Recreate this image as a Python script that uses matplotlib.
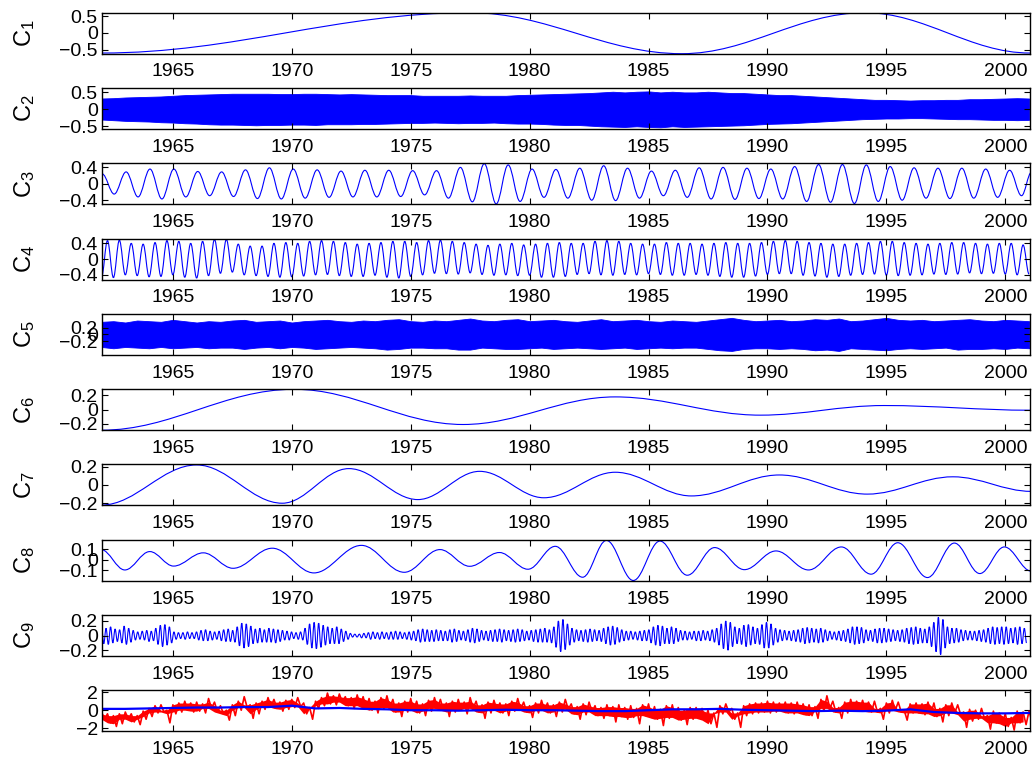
import numpy as np
import matplotlib
matplotlib.use("Agg")
import matplotlib.pyplot as plt
from matplotlib.path import Path
from matplotlib.patches import PathPatch
from matplotlib.ticker import FuncFormatter

plt.rcParams["font.family"] = ["Liberation Sans", "DejaVu Sans"]
plt.rcParams["mathtext.default"] = "regular"

# ---- data (years, values) ----
X_RANGE = (1962.02, 2001.04)
YEAR_TICKS = [1965, 1970, 1975, 1980, 1985, 1990, 1995, 2000]

# C1: turning points
C1_t = [1962.0, 1977.5, 1986.4, 1994.1, 2001.04]
C1_v = [-0.60, 0.60, -0.62, 0.60, -0.60]

# C2: band edges every half year from 1962.0
C2_upper = [.32, .33, .35, .36, .37, .38, .40, .42, .43, .44, .45, .46, .46, .46, .46, .45,
            .45, .46, .46, .45, .44, .45, .44, .43, .42, .42, .42, .40, .40, .40, .40, .41,
            .40, .40, .40, .42, .43, .44, .45, .46, .47, .48, .50, .52, .50, .52, .53, .50,
            .52, .50, .50, .52, .50, .48, .48, .46, .44, .42, .42, .40, .38, .36, .34, .32,
            .30, .28, .28, .27, .26, .27, .27, .28, .28, .30, .30, .31, .32, .33, .32]
C2_lower = [-.30, -.32, -.34, -.35, -.36, -.38, -.39, -.41, -.42, -.44, -.45, -.45, -.46, -.47, -.46, -.46,
            -.45, -.45, -.46, -.44, -.44, -.44, -.43, -.43, -.42, -.41, -.40, -.40, -.39, -.40, -.41, -.40,
            -.40, -.39, -.41, -.42, -.42, -.43, -.45, -.46, -.46, -.48, -.50, -.51, -.52, -.50, -.52, -.53,
            -.50, -.52, -.51, -.50, -.49, -.48, -.47, -.45, -.43, -.42, -.41, -.39, -.37, -.35, -.33, -.31,
            -.29, -.28, -.27, -.27, -.26, -.26, -.27, -.28, -.29, -.29, -.30, -.31, -.31, -.32, -.31]

# C3: alternating turning points every 0.502 yr from 1962.03, then end point
C3_v = [0.24, -0.25, 0.29, -0.32, 0.36, -0.37, 0.36, -0.32, 0.30, -0.29, 0.29, -0.31, 0.34,
        -0.36, 0.39, -0.37, 0.36, -0.35, 0.34, -0.33, 0.31, -0.32, 0.33, -0.32, 0.33, -0.31,
        0.32, -0.27, 0.32, -0.35, 0.40, -0.44, 0.49, -0.49, 0.46, -0.43, 0.36, -0.33, 0.35,
        -0.35, 0.38, -0.40, 0.44, -0.41, 0.38, -0.35, 0.31, -0.29, 0.33, -0.33, 0.39, -0.37,
        0.40, -0.38, 0.38, -0.36, 0.36, -0.37, 0.42, -0.43, 0.47, -0.45, 0.47, -0.48, 0.46,
        -0.43, 0.42, -0.40, 0.39, -0.35, 0.38, -0.36, 0.38, -0.35, 0.36, -0.33, 0.33, -0.29]
C3_start, C3_step, C3_end = 1962.03, 0.502, (2001.1, 0.28)

# C4: troughs at 1962.0 + 0.5k, peaks half way between
C4_troughs = [-.46, -.47, -.40, -.42, -.45, -.44, -.40, -.46, -.48, -.42, -.36, -.33, -.40, -.42, -.44, -.46,
              -.45, -.43, -.40, -.39, -.42, -.44, -.44, -.41, -.46, -.48, -.44, -.40, -.36, -.37, -.38, -.35,
              -.39, -.41, -.40, -.42, -.41, -.46, -.46, -.44, -.39, -.37, -.40, -.41, -.39, -.40, -.37, -.39,
              -.41, -.41, -.39, -.41, -.44, -.46, -.46, -.43, -.39, -.37, -.37, -.41, -.43, -.46, -.44, -.41,
              -.39, -.38, -.41, -.42, -.41, -.40, -.38, -.39, -.38, -.35, -.37, -.36, -.38, -.40, -.38]
C4_peaks = [.47, .48, .40, .38, .42, .47, .45, .40, .45, .50, .50, .38, .33, .33, .40, .42,
            .40, .45, .47, .45, .42, .38, .40, .42, .45, .45, .42, .47, .48, .45, .42, .38,
            .35, .38, .40, .36, .38, .40, .42, .40, .40, .45, .47, .45, .40, .38, .38, .42,
            .40, .40, .38, .40, .42, .40, .40, .42, .45, .47, .45, .42, .40, .38, .38, .40,
            .42, .45, .45, .42, .40, .38, .40, .42, .42, .40, .38, .40, .40, .36]

# C5: band edges every half year from 1962.0
C5_upper = [.38, .40, .36, .42, .40, .38, .44, .40, .36, .40, .38, .42, .44, .38, .40, .42,
            .36, .40, .42, .44, .40, .38, .42, .40, .44, .46, .40, .38, .42, .40, .44, .48,
            .42, .40, .44, .46, .40, .42, .44, .40, .38, .42, .46, .40, .42, .44, .40, .38,
            .42, .40, .38, .42, .46, .50, .44, .40, .42, .44, .40, .42, .46, .44, .48, .40,
            .42, .46, .50, .44, .42, .44, .40, .42, .44, .46, .42, .40, .44, .42, .40]
C5_lower = [-.38, -.42, -.38, -.40, -.42, -.38, -.42, -.40, -.38, -.42, -.40, -.40, -.44, -.40, -.38, -.42,
            -.38, -.40, -.44, -.42, -.40, -.38, -.40, -.42, -.46, -.44, -.40, -.40, -.42, -.42, -.46, -.46,
            -.40, -.42, -.44, -.44, -.42, -.40, -.44, -.42, -.40, -.42, -.44, -.42, -.40, -.44, -.42, -.40,
            -.42, -.40, -.40, -.44, -.48, -.50, -.44, -.42, -.42, -.44, -.42, -.44, -.48, -.46, -.50, -.42,
            -.44, -.46, -.48, -.44, -.42, -.44, -.42, -.40, -.46, -.44, -.44, -.42, -.44, -.40, -.42]

# C6, C7, C8: turning points
C6_t = [1962.0, 1970.1, 1977.2, 1983.6, 1989.7, 1994.9, 2001.1]
C6_v = [-0.29, 0.284, -0.21, 0.177, -0.079, 0.056, -0.01]
C7_t = [1962.0, 1966.0, 1969.6, 1972.4, 1975.3, 1977.9, 1980.6, 1983.6, 1986.8, 1990.5,
        1994.2, 1997.8, 2001.1]
C7_v = [-0.22, 0.22, -0.20, 0.18, -0.16, 0.15, -0.14, 0.14, -0.12, 0.11, -0.10, 0.09, -0.07]
C8_t = [1961.98, 1962.98, 1964.03, 1965.03, 1966.28, 1967.53, 1969.18, 1970.93, 1972.93,
        1974.73, 1976.23, 1977.48, 1978.73, 1979.93, 1981.08, 1982.23, 1983.23, 1984.36,
        1985.48, 1986.63, 1987.78, 1989.03, 1990.36, 1991.73, 1993.11, 1994.36, 1995.48,
        1996.73, 1997.86, 1998.93, 1999.96, 2001.1]
C8_v = [0.097, -0.097, 0.078, -0.06, 0.066, -0.081, 0.11, -0.125, 0.137, -0.119, 0.097,
        -0.062, 0.069, -0.09, 0.128, -0.166, 0.184, -0.197, 0.178, -0.147, 0.116, -0.094,
        0.084, -0.097, 0.122, -0.137, 0.162, -0.169, 0.159, -0.131, 0.122, -0.109]

# C9: peaks and troughs, alternating from 1962.0
C9_peaks = [.12, .10, .12, .09, .08, .13, .10, .07, .05, .06, .07, .06, .10, .14, .15, .12,
            .05, .04, .04, .05, .04, .05, .07, .08, .06, .05, .06, .08, .09, .07, .12, .17,
            .16, .13, .09, .10, .08, .10, .09, .08, .07, .06, .05, .04, .05, .10, .16, .18,
            .17, .14, .12, .10, .12, .09, .06, .03, .02, .02, .03, .04, .05, .04, .05, .04,
            .05, .06, .05, .04, .05, .06, .08, .09, .08, .07, .08, .07, .06, .08, .09, .07,
            .06, .08, .10, .09, .07, .06, .07, .08, .09, .08, .07, .08, .09, .08, .06, .07,
            .08, .09, .10, .08, .12, .20, .22, .16, .10, .08, .07, .08, .09, .08, .07, .10,
            .12, .13, .11, .08, .06, .06, .05, .06, .07, .08, .12, .14, .13, .10, .12, .10,
            .07, .06, .05, .06, .06, .07, .06, .08, .10, .16, .20, .18, .12, .10, .14, .15,
            .12, .10, .15, .18, .16, .10, .08, .07, .06, .07, .08, .10, .11, .10, .09, .10,
            .08, .06, .05, .06, .07, .09, .12, .12, .11, .08, .07, .09, .10, .10, .09, .08,
            .07, .08, .10, .11, .12, .10, .09, .12, .18, .25, .22, .12, .10, .10, .08, .07,
            .06, .06, .07, .08, .10, .12, .11, .12, .12, .10, .11, .12, .10]
C9_troughs = [-.11, -.12, -.10, -.08, -.10, -.12, -.09, -.06, -.05, -.06, -.08, -.07, -.12, -.15, -.13, -.10,
              -.05, -.04, -.05, -.04, -.04, -.06, -.07, -.07, -.06, -.05, -.07, -.08, -.08, -.09, -.14, -.17,
              -.15, -.11, -.10, -.09, -.09, -.09, -.10, -.08, -.06, -.06, -.04, -.05, -.06, -.12, -.17, -.18,
              -.16, -.13, -.11, -.11, -.11, -.08, -.05, -.02, -.02, -.03, -.03, -.05, -.04, -.05, -.04, -.05,
              -.05, -.05, -.04, -.05, -.06, -.07, -.09, -.08, -.08, -.08, -.07, -.07, -.07, -.09, -.08, -.06,
              -.07, -.09, -.10, -.08, -.06, -.07, -.08, -.08, -.09, -.07, -.08, -.09, -.08, -.07, -.06, -.08,
              -.09, -.09, -.09, -.10, -.16, -.22, -.19, -.13, -.09, -.07, -.08, -.09, -.08, -.07, -.08, -.11,
              -.13, -.12, -.09, -.07, -.06, -.05, -.06, -.07, -.07, -.10, -.13, -.14, -.11, -.11, -.11, -.08,
              -.06, -.06, -.05, -.07, -.07, -.06, -.07, -.09, -.13, -.18, -.20, -.15, -.11, -.12, -.15, -.13,
              -.11, -.12, -.17, -.17, -.13, -.09, -.07, -.06, -.07, -.08, -.09, -.11, -.10, -.09, -.10, -.09,
              -.07, -.05, -.06, -.07, -.08, -.10, -.12, -.11, -.10, -.07, -.08, -.10, -.10, -.09, -.08, -.07,
              -.08, -.09, -.11, -.12, -.11, -.10, -.10, -.15, -.22, -.26, -.17, -.11, -.10, -.09, -.07, -.06,
              -.06, -.07, -.08, -.09, -.11, -.12, -.11, -.12, -.11, -.10, -.12, -.11, -.10]
C9_start, C9_step = 1962.0, 0.0951

# bottom panel: red series high/low every quarter year from 1962.0 (two years per row)
RED_hi = [-0.2, -0.4, -0.6, -0.4, -0.2, -0.4, -0.6, -0.1,
          0.2, 0.5, 0.6, 0.0, 0.6, 0.8, 1.0, 0.8,
          0.9, 0.7, 1.3, 0.9, 0.5, 0.0, 0.6, 1.0,
          1.5, 0.6, 0.8, 1.0, 1.4, 1.2, 0.9, 1.1,
          1.2, 1.4, 0.8, 0.3, 1.0, 1.4, 1.9, 1.6,
          1.8, 1.5, 1.4, 1.7, 1.5, 1.3, 1.0, 1.4,
          1.6, 1.2, 0.8, 1.0, 1.3, 1.0, 0.7, 1.1,
          1.4, 1.2, 0.8, 1.0, 1.2, 0.9, 1.4, 1.0,
          0.6, 0.9, 1.1, 0.8, 0.7, 1.0, 1.3, 0.9,
          0.5, 0.8, 1.1, 0.8, 0.6, 0.9, 1.2, 0.7,
          0.4, 0.7, 0.9, 0.5, 0.3, 0.6, 0.4, 0.6,
          0.3, 0.5, 0.2, 0.6, 0.7, 0.4, 0.1, 0.5,
          0.6, 0.3, 0.0, 0.3, 0.3, 0.2, 0.0, -0.3,
          0.5, 0.7, 0.2, -0.3, 0.5, 0.7, 0.8, 0.8,
          1.0, 0.9, 0.8, 0.9, 0.8, 0.9, 0.7, 0.6,
          0.4, 1.2, 1.6, 1.0, 0.3, 0.9, 1.2, 1.0,
          1.1, 0.9, 1.0, 0.2, 0.8, 1.1, 0.9, 0.0,
          0.7, 0.8, 0.7, 0.9, 0.8, 0.2, 0.6, 0.8,
          0.6, -0.2, 0.1, 0.0, 0.2, -0.6, -0.1, -0.3,
          -0.4, -0.8, -0.1, -0.2, -0.1]
RED_lo = [-1.0, -1.4, -1.8, -1.5, -1.0, -1.3, -1.6, -1.0,
          -0.7, -0.3, -0.2, -1.4, -0.4, -0.2, 0.0, -0.2,
          -0.1, -0.3, 0.2, -0.2, -0.4, -1.1, -0.6, 0.0,
          0.3, -0.9, -0.4, 0.1, 0.4, 0.2, -0.1, 0.1,
          0.3, 0.4, -0.4, -1.0, 0.2, 0.5, 0.7, 0.6,
          0.9, 0.5, 0.2, 0.5, 0.2, 0.0, -0.3, 0.2,
          0.3, -0.2, -0.7, -0.2, 0.0, -0.3, -0.6, -0.1,
          0.2, 0.0, -0.7, -0.2, 0.0, -0.4, 0.2, -0.2,
          -0.9, -0.3, 0.0, -0.3, -0.6, -0.1, 0.1, -0.2,
          -0.8, -0.3, 0.0, -0.3, -0.7, -0.2, 0.1, -0.4,
          -1.0, -0.5, -0.2, -0.6, -0.9, -0.6, -1.3, -0.7,
          -1.0, -0.8, -1.5, -0.6, -0.8, -1.0, -1.7, -0.9,
          -0.8, -1.1, -1.6, -1.0, -0.9, -1.1, -1.5, -1.9,
          -0.4, -0.2, -1.0, -1.9, -0.6, -0.4, -0.3, -0.2,
          -0.3, -0.2, -0.1, -0.3, -0.4, -0.3, -0.5, -0.6,
          -0.9, -0.1, 0.2, -0.2, -0.9, -0.3, 0.0, -0.1,
          -0.1, -0.2, -0.2, -1.0, -0.3, 0.0, -0.2, -1.1,
          -0.3, -0.3, -0.5, -0.4, -0.7, -1.3, -0.6, -0.3,
          -0.5, -1.9, -1.2, -1.0, -0.9, -2.1, -1.4, -1.5,
          -1.8, -2.2, -1.4, -1.6, -1.3]
BLUE_v = [0.15, 0.15, 0.2, 0.25, 0.3, 0.3, 0.35, 0.35, 0.5, 0.2, 0.25, 0.15, 0.1, 0.0, 0.0,
          -0.05, 0.0, 0.05, 0.0, 0.0, -0.05, -0.1, -0.1, 0.0, 0.1, 0.1, 0.15, 0.05, 0.0, -0.05,
          -0.1, -0.05, -0.1, -0.05, 0.1, -0.2, -0.3, -0.35, -0.35, -0.3]

Y_LIMITS = [(-0.62, 0.6), (-0.58, 0.63), (-0.5, 0.5), (-0.52, 0.52), (-0.62, 0.62),
            (-0.29, 0.285), (-0.225, 0.225), (-0.2, 0.19), (-0.28, 0.28), (-2.35, 2.2)]
Y_TICKS = [[-0.5, 0, 0.5], [-0.5, 0, 0.5], [-0.4, 0, 0.4], [-0.4, 0, 0.4], [-0.2, 0, 0.2],
           [-0.2, 0, 0.2], [-0.2, 0, 0.2], [-0.1, 0, 0.1], [-0.2, 0, 0.2], [-2, 0, 2]]


def smooth_line(ax, t, v, color="b", lw=0.8):
    # cubic segments with flat tangents at each turning point
    verts = [(t[0], v[0])]
    codes = [Path.MOVETO]
    for i in range(1, len(t)):
        d = (t[i] - t[i - 1]) * 0.3642
        verts += [(t[i - 1] + d, v[i - 1]), (t[i] - d, v[i]), (t[i], v[i])]
        codes += [Path.CURVE4] * 3
    ax.add_patch(PathPatch(Path(verts, codes), fill=False, edgecolor=color, lw=lw))


def alternate(first, second):
    out = np.empty(len(first) + len(second))
    out[0::2] = first
    out[1::2] = second
    return out


fmt = FuncFormatter(lambda y, _: ("%g" % y).replace("-", "\u2212"))

fig = plt.figure(figsize=(10.32, 7.64), dpi=100)
H = 764.0
axes = []
for i in range(10):
    top = 12.7 + i * 75.3
    ax = fig.add_axes([102 / 1032, 1 - (top + 41) / H, 928 / 1032, 41 / H])
    axes.append(ax)

half_years = 1962.0 + 0.5 * np.arange(79)

smooth_line(axes[0], C1_t, C1_v)

axes[1].fill_between(half_years, C2_lower, C2_upper, color="b", lw=0.6)

c3_t = list(C3_start + C3_step * np.arange(len(C3_v))) + [C3_end[0]]
smooth_line(axes[2], c3_t, C3_v + [C3_end[1]])

c4_v = alternate(C4_troughs, C4_peaks)
smooth_line(axes[3], 1962.0 + 0.25 * np.arange(len(c4_v)), c4_v)

axes[4].fill_between(half_years, C5_lower, C5_upper, color="b", lw=0.6)

smooth_line(axes[5], C6_t, C6_v)
smooth_line(axes[6], C7_t, C7_v)
smooth_line(axes[7], C8_t, C8_v)

c9_v = alternate(C9_peaks, C9_troughs)
smooth_line(axes[8], C9_start + C9_step * np.arange(len(c9_v)), c9_v)

# red: noisy series, a solid core between its local highs and lows plus a ragged edge
quarter = 1962.0 + 0.25 * np.arange(len(RED_hi))
red_t = alternate(quarter, quarter + 0.125)
core_hi = np.minimum(RED_hi, np.roll(RED_hi, -1))
core_lo = np.maximum(RED_lo, np.roll(RED_lo, -1))
axes[9].fill_between(quarter[:-1], core_lo[:-1], np.maximum(core_hi, core_lo)[:-1],
                     color="r", lw=0)
axes[9].plot(red_t, alternate(RED_hi, RED_lo), color="r", lw=1.2)
axes[9].plot(1962.0 + np.arange(len(BLUE_v)), BLUE_v, color="b", lw=1.6)

for i, ax in enumerate(axes):
    ax.set_xlim(*X_RANGE)
    ax.set_ylim(*Y_LIMITS[i])
    ax.set_xticks(YEAR_TICKS)
    ax.set_yticks(Y_TICKS[i])
    ax.yaxis.set_major_formatter(fmt)
    ax.tick_params(direction="in", top=True, right=True, length=4, width=0.8,
                   labelsize=14, colors="black")
    ax.tick_params(axis="x", pad=7)
    ax.tick_params(axis="y", pad=3)
    for sp in ax.spines.values():
        sp.set_linewidth(1.0)
    if i < 9:
        ax.set_ylabel("C$_{%d}$" % (i + 1), fontsize=17)
        ax.yaxis.set_label_coords(-0.07, 0.5)

fig.savefig("out.png", dpi=100)
